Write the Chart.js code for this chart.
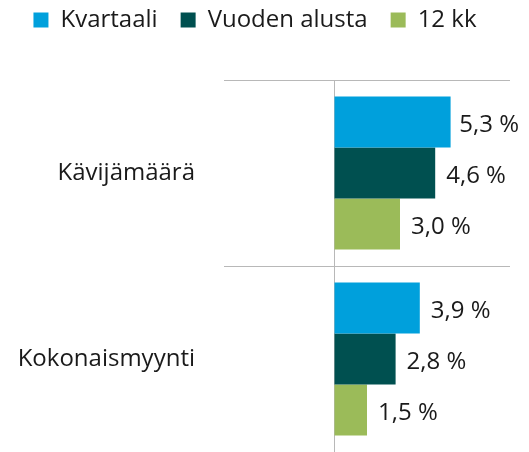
<!DOCTYPE html>
<html>
<head>
<meta charset="utf-8">
<script src="https://cdn.jsdelivr.net/npm/chart.js@4"></script>
<style>
  html, body { margin: 0; padding: 0; background: #fff; }
  #wrap { width: 529px; height: 452px; }
</style>
</head>
<body>
<div id="wrap"><canvas id="myChart" width="529" height="452"></canvas></div>
<script>
const categories = ['Kävijämäärä', 'Kokonaismyynti'];
const seriesNames = ['Kvartaali', 'Vuoden alusta', '12 kk'];
const kvartaali = [5.3, 3.9];
const vuodenAlusta = [4.6, 2.8];
const kk12 = [3.0, 1.5];

const colors = ['#00A0DC', '#005050', '#9BBB59'];
const textColor = '#1a1a1a';
const gridColor = '#b8b8b8';
const fontFamily = '"Open Sans", "Noto Sans", sans-serif';

// value labels to the right of each bar, "5,3 %"
const barLabels = {
    id: 'barLabels',
    afterDatasetsDraw(chart) {
        const ctx = chart.ctx;
        ctx.save();
        ctx.font = '24px ' + fontFamily;
        ctx.fillStyle = textColor;
        ctx.textAlign = 'left';
        ctx.textBaseline = 'middle';
        chart.data.datasets.forEach((ds, i) => {
            chart.getDatasetMeta(i).data.forEach((bar, j) => {
                const txt = ds.data[j].toFixed(1).replace('.', ',') + ' %';
                const w = ctx.measureText(txt).width;
                // keep it inside the picture like Excel does
                const x = Math.min(bar.x + 11, chart.width - 10 - w);
                ctx.fillText(txt, x, bar.y + 3);
            });
        });
        ctx.restore();
    }
};

new Chart(document.getElementById('myChart').getContext('2d'), {
    type: 'bar',
    data: {
        labels: categories,
        datasets: [
            { label: seriesNames[0], data: kvartaali, backgroundColor: colors[0] },
            { label: seriesNames[1], data: vuodenAlusta, backgroundColor: colors[1] },
            { label: seriesNames[2], data: kk12, backgroundColor: colors[2] }
        ]
    },
    options: {
        indexAxis: 'y',
        responsive: false,
        animation: false,
        events: [],
        layout: { padding: { top: -15, right: 19, left: 0, bottom: -2 } },
        datasets: {
            bar: { barPercentage: 1, categoryPercentage: 0.823 }
        },
        plugins: {
            legend: {
                position: 'top',
                labels: {
                    boxWidth: 15,
                    boxHeight: 15,
                    padding: 23,
                    color: textColor,
                    font: { size: 24, family: fontFamily }
                }
            },
            tooltip: { enabled: false }
        },
        scales: {
            x: {
                position: 'top',
                min: -5,
                max: 8,
                ticks: { display: false, stepSize: 1 },
                border: { display: false },
                grid: {
                    drawTicks: false,
                    lineWidth: 1,
                    color: c => (c.tick && c.tick.value === 0 ? gridColor : 'rgba(0,0,0,0)')
                },
                afterFit: s => { s.height = 38; }
            },
            y: {
                ticks: {
                    padding: 29,
                    color: textColor,
                    font: { size: 24, family: fontFamily }
                },
                border: { display: false },
                grid: {
                    offset: true,
                    drawTicks: false,
                    lineWidth: 1,
                    color: gridColor
                },
                afterFit: s => {
                    s.width = 224;
                    s.paddingTop = 0;
                    s.paddingBottom = 0;
                }
            }
        }
    },
    plugins: [barLabels]
});
</script>
</body>
</html>
